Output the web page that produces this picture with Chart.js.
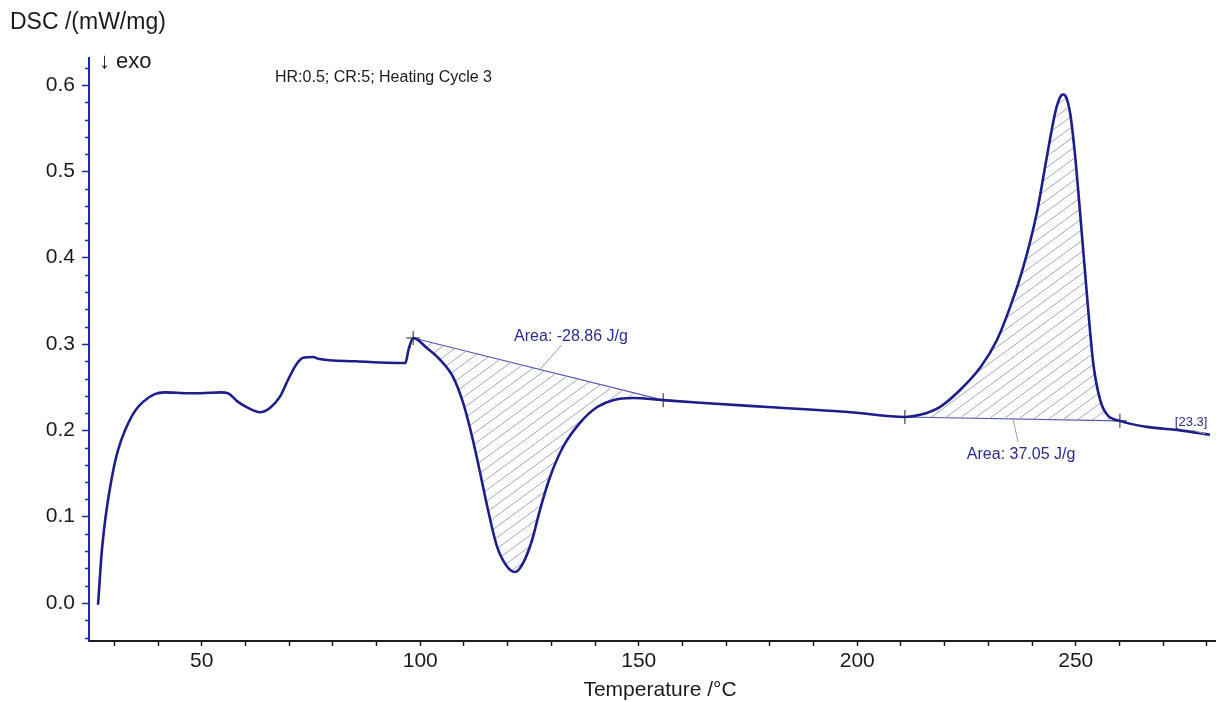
<!DOCTYPE html>
<html>
<head>
<meta charset="utf-8">
<script src="https://cdn.jsdelivr.net/npm/chart.js@4.4.1/dist/chart.umd.min.js"></script>
<style>
html,body{margin:0;padding:0;background:#ffffff;}
#wrap{width:1216px;height:702px;position:relative;}
canvas{display:block;}
</style>
</head>
<body>
<div id="wrap"><canvas id="c" width="1216" height="702"></canvas></div>
<script>
// ---- data ----
const temperature = [26.27, 26.66, 27.03, 27.64, 28.33, 29.31, 30.46, 31.6, 33.14, 34.67, 36.57, 39.24, 41.53, 46.9, 49.8, 54.4, 56.0, 58.3, 60.6, 63.3, 65.6, 67.9, 69.7, 71.6, 73.2, 75.5, 76.6, 85.1, 96.6, 97.3, 98.4, 101.6, 104.5, 107.5, 109.8, 111.9, 113.7, 115.5, 117.6, 119.9, 121.7, 123.5, 125.6, 127.4, 129.7, 132.7, 136.6, 140.5, 144.1, 148.7, 155.6, 164.0, 179.4, 198.4, 210.9, 214.4, 218.9, 223.6, 228.2, 232.0, 235.0, 238.0, 241.1, 243.4, 245.3, 246.1, 246.7, 247.2, 247.7, 248.2, 248.8, 249.8, 251.0, 252.6, 254.0, 255.6, 257.2, 260.1, 266.3, 273.9, 280.7];
const dsc = [-0.002, 0.027, 0.054, 0.085, 0.112, 0.142, 0.170, 0.189, 0.208, 0.222, 0.233, 0.242, 0.244, 0.243, 0.243, 0.244, 0.243, 0.233, 0.226, 0.221, 0.226, 0.239, 0.258, 0.276, 0.284, 0.285, 0.283, 0.280, 0.278, 0.293, 0.307, 0.295, 0.282, 0.262, 0.232, 0.192, 0.151, 0.108, 0.065, 0.042, 0.036, 0.046, 0.073, 0.108, 0.146, 0.181, 0.209, 0.227, 0.235, 0.2375, 0.235, 0.232, 0.227, 0.221, 0.2155, 0.218, 0.227, 0.247, 0.273, 0.305, 0.343, 0.389, 0.452, 0.517, 0.568, 0.582, 0.588, 0.589, 0.587, 0.580, 0.565, 0.521, 0.452, 0.355, 0.278, 0.235, 0.218, 0.211, 0.204, 0.200, 0.195];
const baseline1T = [98.4, 155.6];
const baseline1V = [0.307, 0.235];
const baseline2T = [210.9, 260.1];
const baseline2V = [0.2155, 0.211];
const xTickLabels = [50, 100, 150, 200, 250];
const yTickLabels = [0.0, 0.1, 0.2, 0.3, 0.4, 0.5, 0.6];
const areaLabels = ['Area: -28.86 J/g', 'Area: 37.05 J/g'];
const endLabel = '[23.3]';
const yTitle = 'DSC /(mW/mg)';
const xTitle = 'Temperature /°C';
const exoLabel = '\u2193 exo';
const infoLabel = 'HR:0.5; CR:5; Heating Cycle 3';

// ---- build datasets ----
const curve = temperature.map((t, i) => ({x: t, y: dsc[i]}));
const seg = (lo, hi) => curve.filter(p => p.x >= lo && p.x <= hi);
const base1 = baseline1T.map((t, i) => ({x: t, y: baseline1V[i]}));
const base2 = baseline2T.map((t, i) => ({x: t, y: baseline2V[i]}));

const FONT = "'Liberation Sans', Arial, Helvetica, sans-serif";
Chart.defaults.font.family = FONT;

function hatch() {
  const w = 15, h = 11;
  const c = document.createElement('canvas');
  c.width = w; c.height = h;
  const g = c.getContext('2d');
  g.strokeStyle = '#a2a5c2';
  g.lineWidth = 1;
  g.beginPath();
  g.moveTo(-w, 2 * h); g.lineTo(2 * w, -h);
  g.stroke();
  return g.createPattern(c, 'repeat');
}
const pat = hatch();

const curveColor = '#1d1d8c';
const baseColor = '#5257ad';
const labelColor = '#2b2b8f';

const annotations = [
  {text: areaLabels[0], x: 134.5, y: 0.303, size: 16, leader: [[132.4, 0.299], [127.4, 0.2706]]},
  {text: areaLabels[1], x: 237.5, y: 0.1669, size: 16, leader: [[236.8, 0.1866], [235.7, 0.212]]},
  {text: endLabel, x: 276.4, y: 0.2054, size: 13, leader: [[276.6, 0.2005], [279.6, 0.1958]]}
];

const decor = {
  id: 'decor',
  afterDraw(chart) {
    const ctx = chart.ctx;
    const xs = chart.scales.x, ys = chart.scales.y;
    const area = chart.chartArea;
    ctx.save();
    // minor y ticks
    ctx.strokeStyle = '#2424b0';
    ctx.lineWidth = 1.5;
    for (let i = -2; i <= 31; i++) {
      if (i % 5 === 0) continue;
      const py = Math.round(ys.getPixelForValue(i * 0.02)) + 0.5;
      if (py < area.top - 1 || py > area.bottom + 1) continue;
      ctx.beginPath();
      ctx.moveTo(area.left - 4, py);
      ctx.lineTo(area.left, py);
      ctx.stroke();
    }
    // leaders
    ctx.strokeStyle = '#9a9a9a';
    ctx.lineWidth = 1;
    annotations.forEach(a => {
      ctx.beginPath();
      ctx.moveTo(xs.getPixelForValue(a.leader[0][0]), ys.getPixelForValue(a.leader[0][1]));
      ctx.lineTo(xs.getPixelForValue(a.leader[1][0]), ys.getPixelForValue(a.leader[1][1]));
      ctx.stroke();
    });
    // annotation texts
    ctx.fillStyle = labelColor;
    ctx.textAlign = 'center';
    ctx.textBaseline = 'alphabetic';
    annotations.forEach(a => {
      ctx.font = a.size + 'px ' + FONT;
      ctx.fillText(a.text, xs.getPixelForValue(a.x), ys.getPixelForValue(a.y));
    });
    // fixed texts
    ctx.fillStyle = '#1a1a1a';
    ctx.textAlign = 'left';
    ctx.font = '23px ' + FONT;
    ctx.fillText(yTitle, 10, 29);
    ctx.font = '22px ' + FONT;
    ctx.fillText(exoLabel, 99, 68);
    ctx.font = '16px ' + FONT;
    ctx.fillText(infoLabel, 275, 82);
    ctx.textAlign = 'center';
    ctx.font = '21px ' + FONT;
    ctx.fillText(xTitle, 660, 696);
    ctx.restore();
  }
};

new Chart(document.getElementById('c'), {
  type: 'line',
  data: {
    datasets: [
      {data: curve, borderColor: curveColor, borderWidth: 2.6, pointRadius: 0, cubicInterpolationMode: 'monotone', fill: false},
      {data: seg(baseline1T[0], baseline1T[1]), borderWidth: 0, borderColor: 'rgba(0,0,0,0)', pointRadius: 0, cubicInterpolationMode: 'monotone', backgroundColor: pat, fill: 2},
      {data: base1, borderColor: baseColor, borderWidth: 1.1, pointStyle: 'cross', pointRadius: 7, pointBorderColor: '#6b6b6b', pointBorderWidth: 1.5, fill: false},
      {data: seg(baseline2T[0], baseline2T[1]), borderWidth: 0, borderColor: 'rgba(0,0,0,0)', pointRadius: 0, cubicInterpolationMode: 'monotone', backgroundColor: pat, fill: 4},
      {data: base2, borderColor: baseColor, borderWidth: 1.1, pointStyle: 'cross', pointRadius: 7, pointBorderColor: '#6b6b6b', pointBorderWidth: 1.5, fill: false}
    ]
  },
  options: {
    responsive: false,
    animation: false,
    devicePixelRatio: 1,
    layout: {autoPadding: false, padding: {top: 58, left: 0, right: 0, bottom: 0}},
    plugins: {legend: {display: false}, tooltip: {enabled: false}, title: {display: false}},
    scales: {
      x: {
        type: 'linear', min: 24.2, max: 282.1,
        afterFit(s) { s.height = 61; s.paddingRight = 0; s.paddingLeft = 0; },
        border: {color: '#1e1e1e', width: 2},
        grid: {drawOnChartArea: false, drawTicks: true, tickLength: 5, tickColor: '#1e1e1e', tickWidth: 1.5},
        ticks: {
          stepSize: 10, includeBounds: false, autoSkip: false, maxRotation: 0,
          padding: 3, color: '#1a1a1a', font: {size: 21},
          callback: v => xTickLabels.includes(Math.round(v)) && Math.abs(v - Math.round(v)) < 1e-6 ? String(Math.round(v)) : ''
        }
      },
      y: {
        type: 'linear', min: -0.044, max: 0.6313,
        afterFit(s) { s.width = 89; },
        border: {color: '#2424b0', width: 2},
        grid: {drawOnChartArea: false, drawTicks: true, tickLength: 7, tickColor: '#2424b0', tickWidth: 1.5},
        ticks: {
          stepSize: 0.1, includeBounds: false, autoSkip: false,
          padding: 7, color: '#1a1a1a', font: {size: 21},
          callback: v => {
            const m = yTickLabels.find(t => Math.abs(t - v) < 1e-6);
            return m === undefined ? '' : m.toFixed(1);
          }
        }
      }
    }
  },
  plugins: [decor]
});
</script>
</body>
</html>
